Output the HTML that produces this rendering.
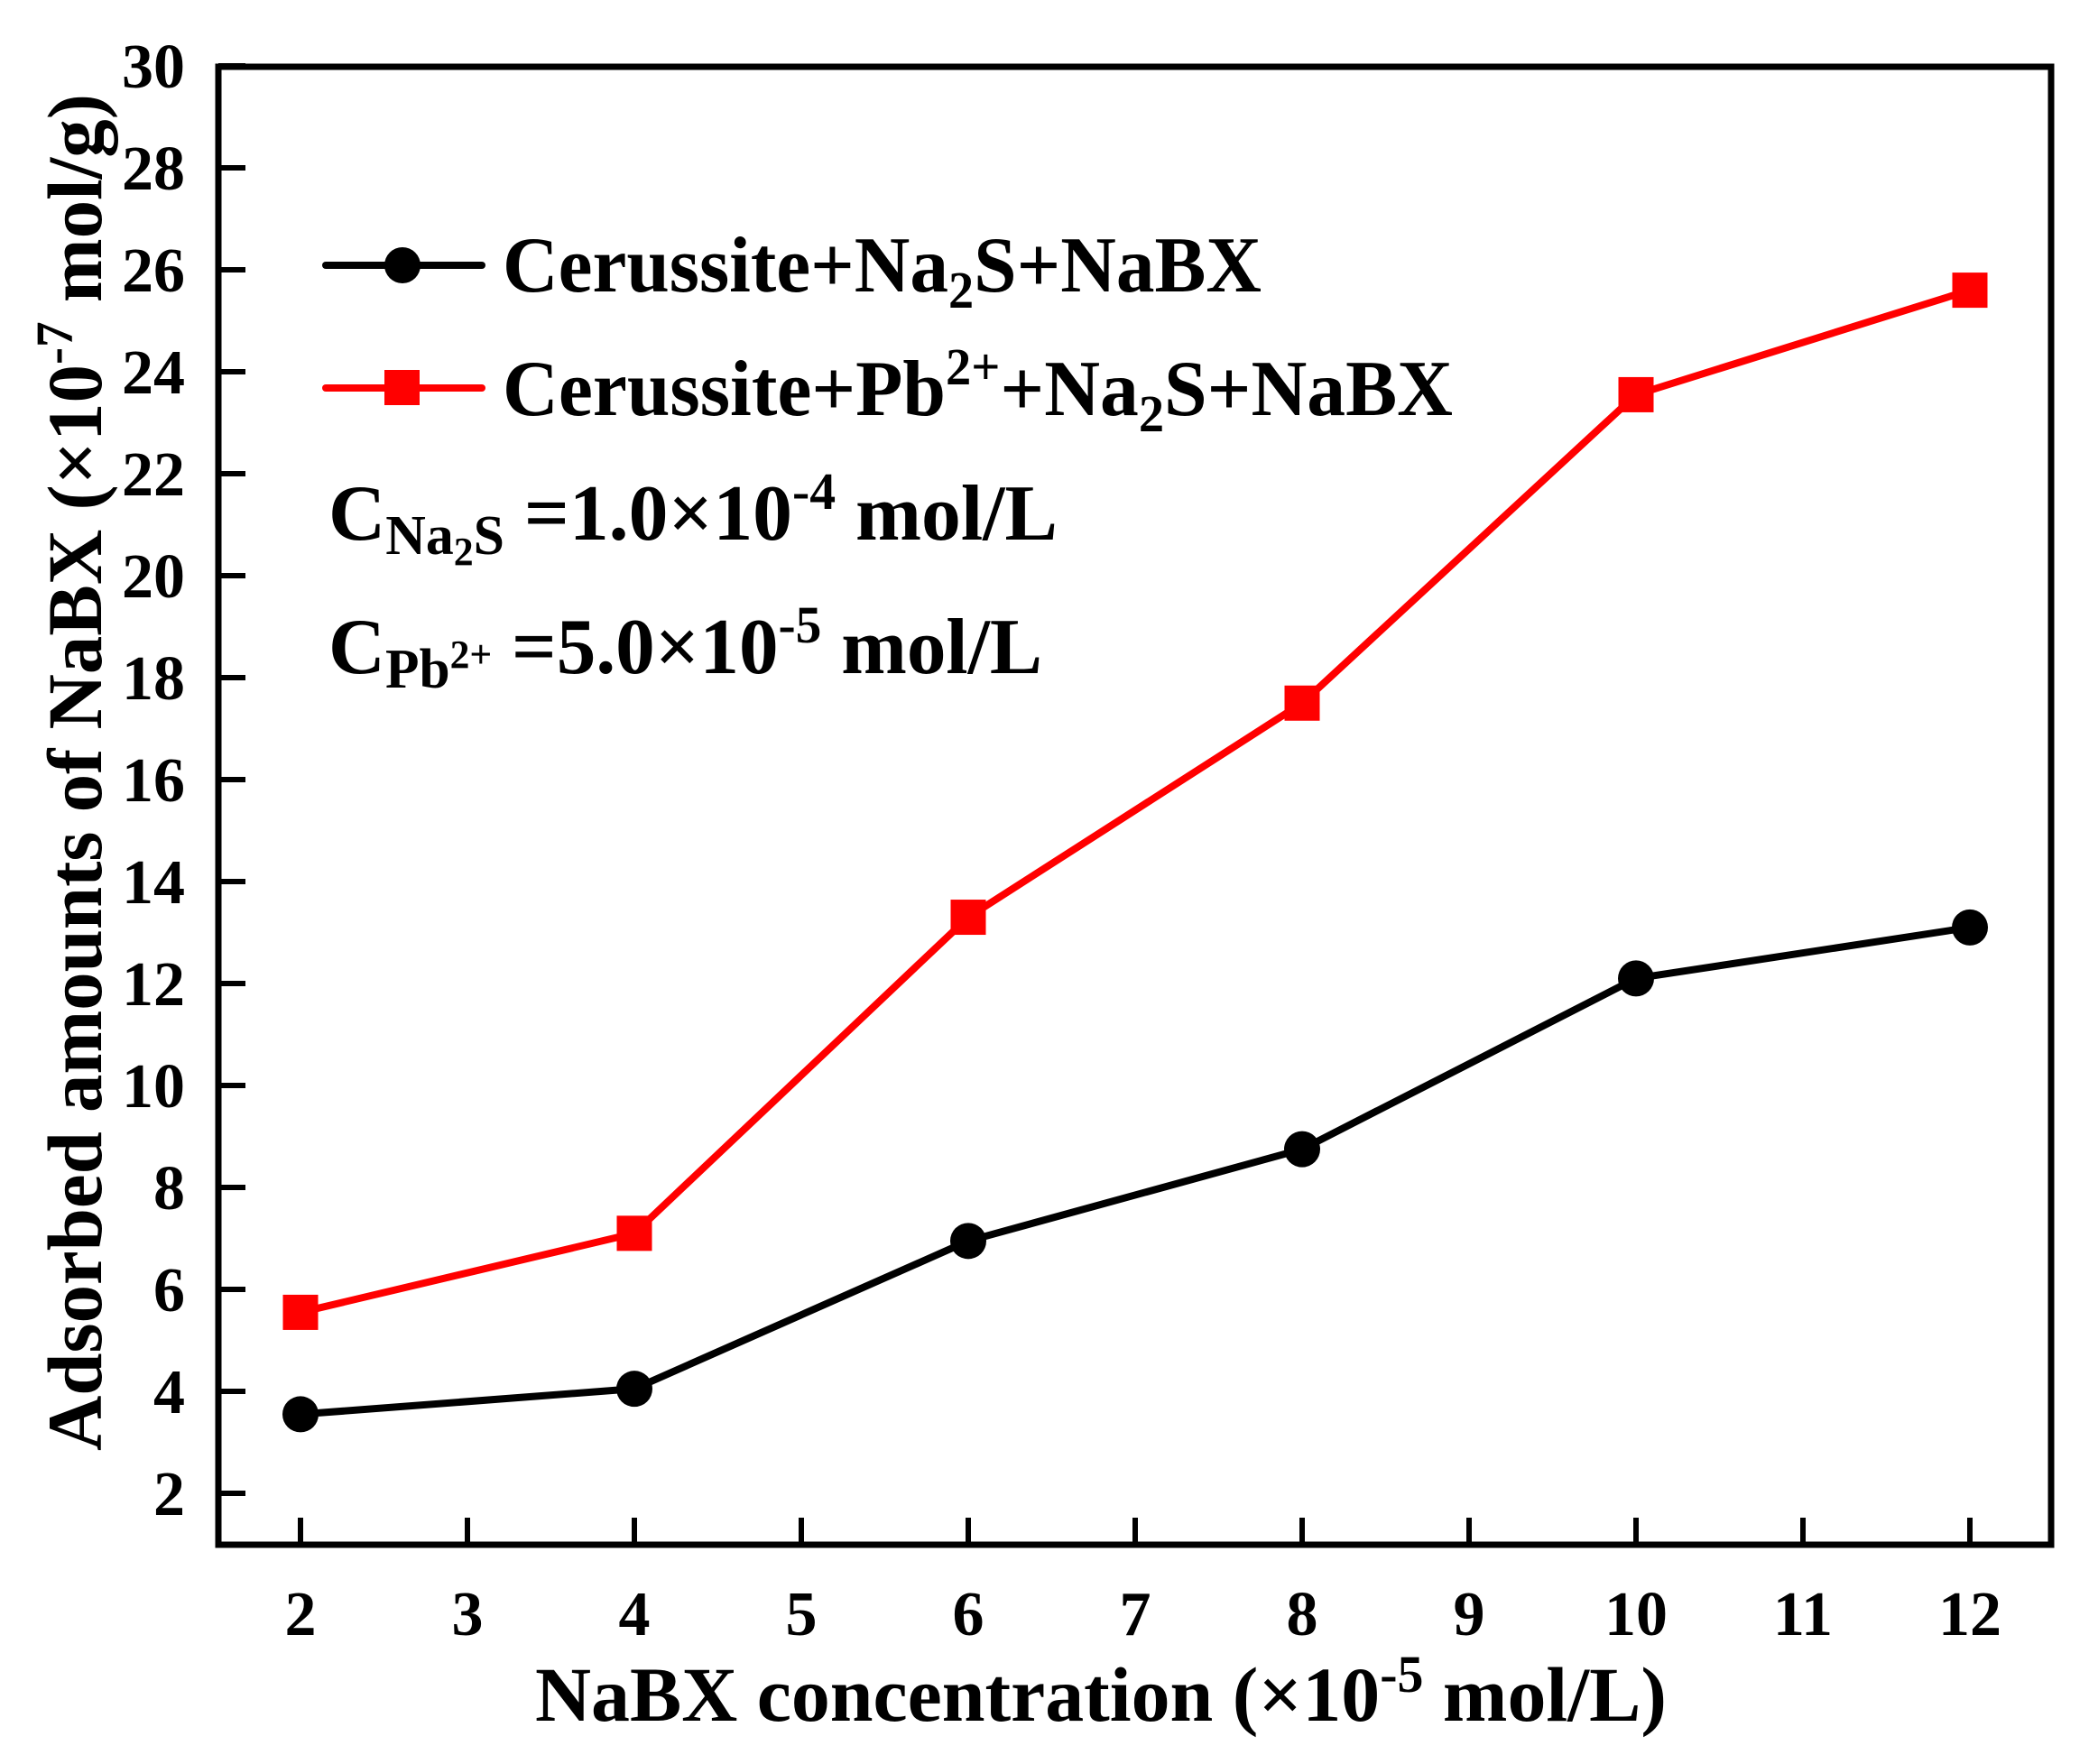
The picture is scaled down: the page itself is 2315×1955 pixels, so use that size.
<!DOCTYPE html>
<html><head><meta charset="utf-8"><style>
html,body{margin:0;padding:0;background:#fff;}
svg{display:block;}
text{font-family:"Liberation Serif",serif;font-weight:bold;fill:#000;}
</style></head><body>
<svg id="chart" width="2315" height="1955" viewBox="0 0 2315 1955" xmlns="http://www.w3.org/2000/svg">
<g id="axes"></g>
<g id="series"></g>
<g id="legend">
  <line x1="361" y1="294" x2="534" y2="294" stroke="#000" stroke-width="8" stroke-linecap="round"/>
  <circle cx="446" cy="294" r="20" fill="#000"/>
  <text x="557" y="323" font-size="88" textLength="841" lengthAdjust="spacingAndGlyphs">Cerussite+Na<tspan font-size="58" dy="18">2</tspan><tspan dy="-18">S+NaBX</tspan></text>
  <line x1="361" y1="430" x2="534" y2="430" stroke="#f00" stroke-width="8" stroke-linecap="round"/>
  <rect x="426" y="410" width="39" height="39" fill="#f00"/>
  <text x="557" y="460" font-size="88" textLength="1053" lengthAdjust="spacingAndGlyphs">Cerussite+Pb<tspan font-size="58" dy="-34">2+</tspan><tspan dy="34">+Na</tspan><tspan font-size="58" dy="18">2</tspan><tspan dy="-18">S+NaBX</tspan></text>
  <text x="364" y="598" font-size="88" textLength="808" lengthAdjust="spacingAndGlyphs">C<tspan font-size="62" dy="16">Na</tspan><tspan font-size="44" dy="12">2</tspan><tspan font-size="62" dy="-12">S</tspan><tspan dy="-16"> =1.0×10</tspan><tspan font-size="58" dy="-34">-4</tspan><tspan dy="34"> mol/L</tspan></text>
  <text x="364" y="746" font-size="88" textLength="791" lengthAdjust="spacingAndGlyphs">C<tspan font-size="62" dy="16">Pb</tspan><tspan font-size="44" dy="-22">2+</tspan><tspan dy="6"> =5.0×10</tspan><tspan font-size="58" dy="-34">-5</tspan><tspan dy="34"> mol/L</tspan></text>
</g>
<text x="1220" y="1907" font-size="86" text-anchor="middle" textLength="1254" lengthAdjust="spacingAndGlyphs">NaBX concentration (×10<tspan font-size="58" dy="-32">-5</tspan><tspan dy="32"> mol/L)</tspan></text>
<text transform="translate(112,1608) rotate(-90)" x="0" y="0" font-size="86" textLength="1504" lengthAdjust="spacingAndGlyphs">Adsorbed amounts of NaBX (×10<tspan font-size="58" dy="-32">-7</tspan><tspan dy="32"> mol/g)</tspan></text>
</svg>
<script>
const categories = [2, 4, 6, 8, 10, 12];
const seriesBlack = [3.55, 4.05, 6.95, 8.75, 12.1, 13.1];
const seriesRed = [5.55, 7.1, 13.3, 17.5, 23.55, 25.6];
const xTicks = [2, 3, 4, 5, 6, 7, 8, 9, 10, 11, 12];
const yTicks = [2, 4, 6, 8, 10, 12, 14, 16, 18, 20, 22, 24, 26, 28, 30];

const NS = 'http://www.w3.org/2000/svg';
const L = 242, R = 2273, T = 74, B = 1712;
function xs(v){ return 333 + (v - 2) * 185; }
function ys(v){ return 1655 - (v - 2) * 56.5; }
function mk(tag, attrs, parent){
  const e = document.createElementNS(NS, tag);
  for (const k in attrs) e.setAttribute(k, attrs[k]);
  parent.appendChild(e);
  return e;
}
const axes = document.getElementById('axes');
const frame = mk('rect', {x:L, y:T, width:R-L, height:B-T, fill:'none', stroke:'#000', 'stroke-width':7}, axes);


xTicks.forEach(v => {
  const t = mk('line', {x1:xs(v), x2:xs(v), y1:B, y2:B-30, stroke:'#000', 'stroke-width':6}, axes);
  
  
  const lb = mk('text', {x:xs(v), y:1812, 'font-size':70, 'text-anchor':'middle'}, axes);
  lb.textContent = v;
  
  
});
yTicks.forEach(v => {
  const t = mk('line', {x1:L, x2:L+30, y1:ys(v), y2:ys(v), stroke:'#000', 'stroke-width':6}, axes);
  
  
  const lb = mk('text', {x:205, y:ys(v)+24, 'font-size':70, 'text-anchor':'end'}, axes);
  lb.textContent = v;
  
  
});
const sg = document.getElementById('series');
function drawSeries(vals, color, shape, name){
  const pts = categories.map((c,i) => xs(c) + ',' + ys(vals[i])).join(' ');
  const pl = mk('polyline', {points:pts, fill:'none', stroke:color, 'stroke-width':8, 'stroke-linejoin':'round'}, sg);
  
  
  categories.forEach((c,i) => {
    let m;
    if (shape === 'circle') m = mk('circle', {cx:xs(c), cy:ys(vals[i]), r:20, fill:color}, sg);
    else m = mk('rect', {x:xs(c)-19.5, y:ys(vals[i])-19.5, width:39, height:39, fill:color}, sg);
    
    
  });
}
drawSeries(seriesBlack, '#000', 'circle', 'cerussite-na2s-nabx');
drawSeries(seriesRed, '#f00', 'square', 'cerussite-pb-na2s-nabx');
</script>
</body></html>
